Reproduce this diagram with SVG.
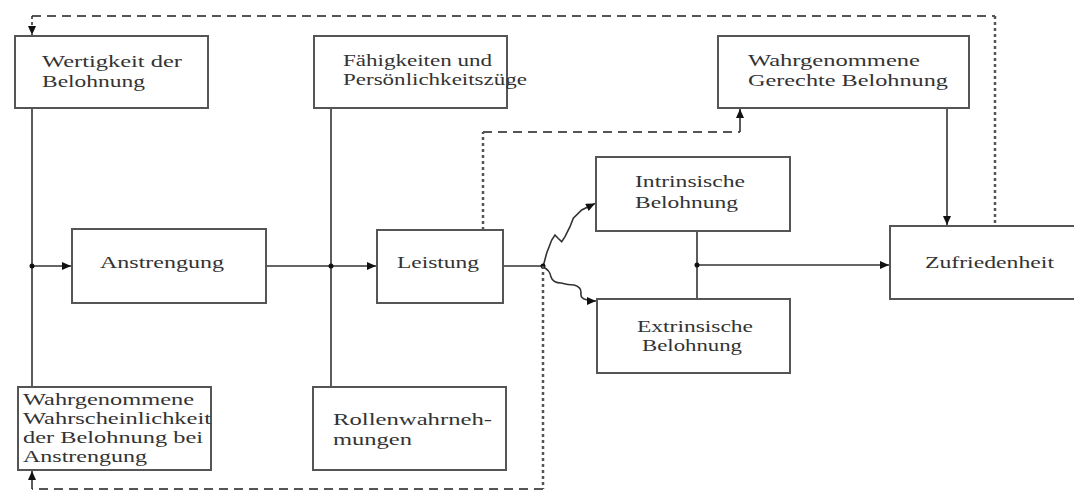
<svg xmlns="http://www.w3.org/2000/svg" width="1074" height="491" viewBox="0 0 1074 491">
<style>
.box{fill:#fff;stroke:#555;stroke-width:2}
.t{font-family:"Liberation Serif","Times New Roman",serif;font-size:16px;fill:#333}
.ln{fill:none;stroke:#333;stroke-width:1.6}
.dash{fill:none;stroke:#555;stroke-width:2;stroke-dasharray:9 6}
.dot{fill:none;stroke:#555;stroke-width:2.5;stroke-dasharray:3 3}
.jn{fill:#111}
</style>
<defs>
<marker id="ah" markerUnits="userSpaceOnUse" markerWidth="10" markerHeight="10" refX="9" refY="4" orient="auto">
<path d="M0,0 L9,4 L0,8 Z" fill="#111"/>
</marker>
</defs>
<rect width="1074" height="491" fill="#fff"/>
<g id="connectors">
<line class="ln" x1="32" y1="108" x2="32" y2="387"/>
<line class="ln" x1="32" y1="266" x2="71" y2="266" marker-end="url(#ah)"/>
<line class="ln" x1="266" y1="266" x2="376" y2="266" marker-end="url(#ah)"/>
<line class="ln" x1="331" y1="108" x2="331" y2="387"/>
<line class="ln" x1="503" y1="266" x2="543" y2="266"/>
<path class="ln" d="M543,267 L546.7,253 L551.7,240 L555,235 L558.3,238.5 L561.7,241.7 L565,236.7 L570,226.7 L573.3,218.3 L581.7,210 L595,203.5" marker-end="url(#ah)"/>
<path class="ln" d="M543,267 Q550,270 551,277 Q553,283 561,283 Q568,285 574,285 Q581,287 581,292 Q580,297 584,299 Q589,301 596,301" marker-end="url(#ah)"/>
<line class="ln" x1="697" y1="231" x2="697" y2="299"/>
<line class="ln" x1="697" y1="265" x2="889" y2="265" marker-end="url(#ah)"/>
<line class="ln" x1="947" y1="108" x2="947" y2="225" marker-end="url(#ah)"/>
<circle class="jn" cx="32" cy="266" r="2.5"/>
<circle class="jn" cx="331" cy="266" r="2.5"/>
<circle class="jn" cx="543" cy="266" r="2.5"/>
<circle class="jn" cx="697" cy="265" r="2.5"/>
<path class="dash" d="M32,16 L995,16"/>
<path class="dot" d="M995,16 L995,226"/>
<line class="ln" x1="32" y1="16" x2="32" y2="35" stroke-dasharray="3 3" marker-end="url(#ah)"/>
<path class="dot" d="M483,230 L483,132"/>
<path class="dash" d="M483,132 L740,132"/>
<line class="ln" x1="740" y1="132" x2="740" y2="109" marker-end="url(#ah)"/>
<path class="dot" d="M543,266 L543,489"/>
<path class="dash" d="M543,489 L32,489"/>
<line class="ln" x1="32" y1="489" x2="32" y2="471" marker-end="url(#ah)"/>
</g>
<g id="wertigkeit">
<rect class="box" x="15" y="36" width="193" height="72"/>
<text class="t" x="42" y="67" textLength="140" lengthAdjust="spacingAndGlyphs">Wertigkeit der</text>
<text class="t" x="42" y="87" textLength="103" lengthAdjust="spacingAndGlyphs">Belohnung</text>
</g>
<g id="faehigkeiten">
<rect class="box" x="314" y="36" width="193" height="72"/>
<text class="t" x="343" y="66" textLength="149" lengthAdjust="spacingAndGlyphs">Fähigkeiten und</text>
<text class="t" x="343" y="85" textLength="184" lengthAdjust="spacingAndGlyphs">Persönlichkeitszüge</text>
</g>
<g id="gerechte">
<rect class="box" x="718" y="36" width="251" height="72"/>
<text class="t" x="748" y="66" textLength="172" lengthAdjust="spacingAndGlyphs">Wahrgenommene</text>
<text class="t" x="748" y="86" textLength="200" lengthAdjust="spacingAndGlyphs">Gerechte Belohnung</text>
</g>
<g id="anstrengung">
<rect class="box" x="72" y="229" width="194" height="74"/>
<text class="t" x="100" y="268" textLength="124" lengthAdjust="spacingAndGlyphs">Anstrengung</text>
</g>
<g id="leistung">
<rect class="box" x="377" y="230" width="126" height="73"/>
<text class="t" x="397" y="268" textLength="82" lengthAdjust="spacingAndGlyphs">Leistung</text>
</g>
<g id="intrinsisch">
<rect class="box" x="596" y="157" width="194" height="74"/>
<text class="t" x="635" y="187" textLength="110" lengthAdjust="spacingAndGlyphs">Intrinsische</text>
<text class="t" x="635" y="208" textLength="103" lengthAdjust="spacingAndGlyphs">Belohnung</text>
</g>
<g id="extrinsisch">
<rect class="box" x="597" y="299" width="193" height="74"/>
<text class="t" x="637" y="332" textLength="116" lengthAdjust="spacingAndGlyphs">Extrinsische</text>
<text class="t" x="642" y="351" textLength="100" lengthAdjust="spacingAndGlyphs">Belohnung</text>
</g>
<g id="zufriedenheit">
<rect class="box" x="890" y="226" width="200" height="73"/>
<text class="t" x="925" y="268" textLength="129" lengthAdjust="spacingAndGlyphs">Zufriedenheit</text>
</g>
<g id="wahrscheinlichkeit">
<rect class="box" x="18" y="387" width="193" height="83"/>
<text class="t" x="23" y="405" textLength="171" lengthAdjust="spacingAndGlyphs">Wahrgenommene</text>
<text class="t" x="23" y="424" textLength="188" lengthAdjust="spacingAndGlyphs">Wahrscheinlichkeit</text>
<text class="t" x="23" y="443" textLength="180" lengthAdjust="spacingAndGlyphs">der Belohnung bei</text>
<text class="t" x="23" y="462" textLength="124" lengthAdjust="spacingAndGlyphs">Anstrengung</text>
</g>
<g id="rollen">
<rect class="box" x="313" y="387" width="193" height="83"/>
<text class="t" x="333" y="425" textLength="159" lengthAdjust="spacingAndGlyphs">Rollenwahrneh-</text>
<text class="t" x="333" y="445" textLength="79" lengthAdjust="spacingAndGlyphs">mungen</text>
</g>
</svg>
